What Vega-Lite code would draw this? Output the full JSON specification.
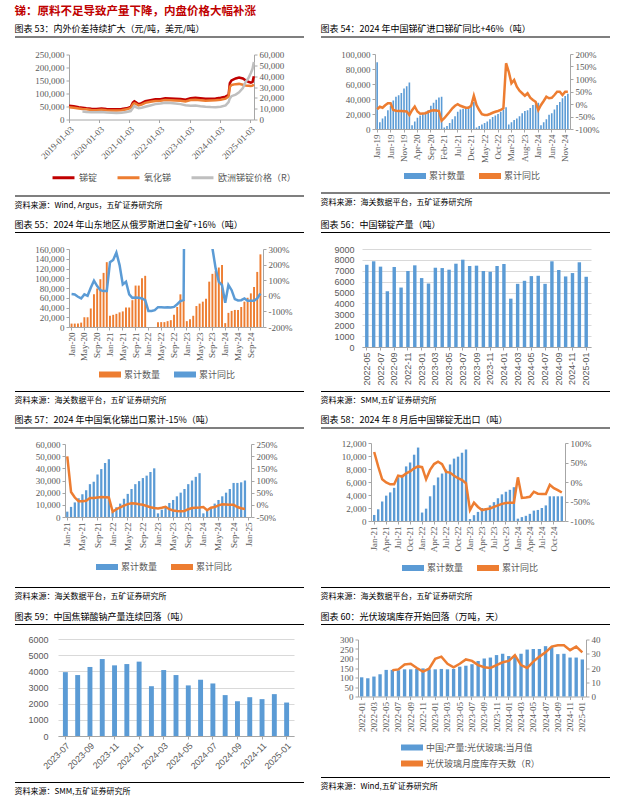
{
"$schema": "https://vega.github.io/schema/vega-lite/v6.json",
"padding": {"left": 14, "top": 5, "right": 2, "bottom": 2},
"background": "white",
"title": {"text": "锑：原料不足导致产量下降，内盘价格大幅补涨", "color": "#c00000", "fontSize": 11.5, "fontWeight": "bold", "offset": 8},
"datasets": {
"p53": [
{"d":"2019-01-03","锑锭":53000,"氧化锑":47000,"eu":null},
{"d":"2019-03-01","锑锭":51000,"氧化锑":45000,"eu":null},
{"d":"2019-05-01","锑锭":47000,"氧化锑":42000,"eu":null},
{"d":"2019-06-15","锑锭":45000,"氧化锑":40000,"eu":7300},
{"d":"2019-08-01","锑锭":43000,"氧化锑":39000,"eu":7000},
{"d":"2019-10-01","锑锭":41000,"氧化锑":37000,"eu":6800},
{"d":"2019-12-01","锑锭":40000,"氧化锑":36000,"eu":6600},
{"d":"2020-02-01","锑锭":42000,"氧化锑":37500,"eu":6900},
{"d":"2020-04-01","锑锭":40000,"氧化锑":36000,"eu":6400},
{"d":"2020-06-01","锑锭":39000,"氧化锑":35000,"eu":6200},
{"d":"2020-08-01","锑锭":39000,"氧化锑":35000,"eu":6100},
{"d":"2020-10-01","锑锭":40000,"氧化锑":36000,"eu":6300},
{"d":"2020-12-01","锑锭":43000,"氧化锑":39000,"eu":6900},
{"d":"2021-01-20","锑锭":48000,"氧化锑":44000,"eu":7800},
{"d":"2021-02-15","锑锭":65000,"氧化锑":58000,"eu":10500},
{"d":"2021-03-05","锑锭":70000,"氧化锑":63000,"eu":12500},
{"d":"2021-03-25","锑锭":66000,"氧化锑":60000,"eu":11500},
{"d":"2021-04-25","锑锭":59000,"氧化锑":54000,"eu":10500},
{"d":"2021-06-01","锑锭":63000,"氧化锑":57000,"eu":10800},
{"d":"2021-07-15","锑锭":70000,"氧化锑":64000,"eu":11800},
{"d":"2021-09-15","锑锭":74000,"氧化锑":68000,"eu":13000},
{"d":"2021-11-15","锑锭":78000,"氧化锑":71000,"eu":14200},
{"d":"2022-01-15","锑锭":78000,"氧化锑":72000,"eu":14800},
{"d":"2022-03-15","锑锭":82000,"氧化锑":75000,"eu":15500},
{"d":"2022-05-15","锑锭":81000,"氧化锑":74000,"eu":15200},
{"d":"2022-07-15","锑锭":80000,"氧化锑":73000,"eu":14800},
{"d":"2022-09-15","锑锭":79000,"氧化锑":72000,"eu":14200},
{"d":"2022-11-15","锑锭":76000,"氧化锑":69000,"eu":13200},
{"d":"2023-01-15","锑锭":82000,"氧化锑":75000,"eu":12800},
{"d":"2023-03-15","锑锭":84000,"氧化锑":76000,"eu":13000},
{"d":"2023-05-15","锑锭":82000,"氧化锑":74000,"eu":12300},
{"d":"2023-07-15","锑锭":80000,"氧化锑":72000,"eu":11800},
{"d":"2023-09-15","锑锭":80000,"氧化锑":73000,"eu":11500},
{"d":"2023-11-15","锑锭":81000,"氧化锑":74000,"eu":11400},
{"d":"2024-01-15","锑锭":84000,"氧化锑":76000,"eu":11800},
{"d":"2024-03-15","锑锭":88000,"氧化锑":80000,"eu":13000},
{"d":"2024-04-20","锑锭":95000,"氧化锑":88000,"eu":16000},
{"d":"2024-05-05","锑锭":140000,"氧化锑":125000,"eu":19500},
{"d":"2024-05-25","锑锭":150000,"氧化锑":133000,"eu":21500},
{"d":"2024-07-15","锑锭":158000,"氧化锑":136000,"eu":23000},
{"d":"2024-08-25","锑锭":161000,"氧化锑":137000,"eu":25000},
{"d":"2024-10-10","锑锭":158000,"氧化锑":134000,"eu":29000},
{"d":"2024-11-15","锑锭":150000,"氧化锑":131000,"eu":35000},
{"d":"2024-12-15","锑锭":145000,"氧化锑":130000,"eu":38000},
{"d":"2025-01-15","锑锭":142000,"氧化锑":129000,"eu":43000},
{"d":"2025-02-05","锑锭":145000,"氧化锑":130000,"eu":47000},
{"d":"2025-02-20","锑锭":166000,"氧化锑":135000,"eu":53000}
],
"p54": [
{"m":"Jan-19","q":89000,"y":-21},{"m":"Feb-19","q":9000,"y":-11},{"m":"Mar-19","q":14000,"y":-15},{"m":"Apr-19","q":17000,"y":-5},{"m":"May-19","q":25000,"y":3},{"m":"Jun-19","q":31000,"y":3},{"m":"Jul-19","q":38000,"y":-24},{"m":"Aug-19","q":43000,"y":-27},{"m":"Sep-19","q":45000,"y":-28},{"m":"Oct-19","q":48000,"y":-28},{"m":"Nov-19","q":54000,"y":-29},{"m":"Dec-19","q":57000,"y":-30},
{"m":"Jan-20","q":62000,"y":-44},{"m":"Feb-20","q":5000,"y":-25},{"m":"Mar-20","q":10000,"y":-10},{"m":"Apr-20","q":15000,"y":-30},{"m":"May-20","q":18000,"y":-39},{"m":"Jun-20","q":20000,"y":-38},{"m":"Jul-20","q":23000,"y":-37},{"m":"Aug-20","q":25000,"y":-32},{"m":"Sep-20","q":31000,"y":-27},{"m":"Oct-20","q":35000,"y":-25},{"m":"Nov-20","q":39000,"y":-26},{"m":"Dec-20","q":42000,"y":-28},
{"m":"Jan-21","q":43000,"y":-67},{"m":"Feb-21","q":2000,"y":-57},{"m":"Mar-21","q":4000,"y":-44},{"m":"Apr-21","q":8000,"y":-31},{"m":"May-21","q":13000,"y":-17},{"m":"Jun-21","q":17000,"y":-7},{"m":"Jul-21","q":23000,"y":-1},{"m":"Aug-21","q":26000,"y":-7},{"m":"Sep-21","q":27000,"y":-11},{"m":"Oct-21","q":29000,"y":-15},{"m":"Nov-21","q":30000,"y":-15},{"m":"Dec-21","q":31000,"y":-7},
{"m":"Jan-22","q":36000,"y":33},{"m":"Feb-22","q":2000,"y":-4},{"m":"Mar-22","q":4000,"y":-24},{"m":"Apr-22","q":6000,"y":-41},{"m":"May-22","q":8000,"y":-44},{"m":"Jun-22","q":10000,"y":-44},{"m":"Jul-22","q":13000,"y":-40},{"m":"Aug-22","q":16000,"y":-35},{"m":"Sep-22","q":18000,"y":-31},{"m":"Oct-22","q":20000,"y":-28},{"m":"Nov-22","q":23000,"y":-24},{"m":"Dec-22","q":26000,"y":-17},
{"m":"Jan-23","q":29000,"y":163},{"m":"Feb-23","q":6000,"y":129},{"m":"Mar-23","q":9000,"y":83},{"m":"Apr-23","q":12000,"y":96},{"m":"May-23","q":14000,"y":69},{"m":"Jun-23","q":17000,"y":53},{"m":"Jul-23","q":21000,"y":43},{"m":"Aug-23","q":24000,"y":33},{"m":"Sep-23","q":25000,"y":43},{"m":"Oct-23","q":28000,"y":25},{"m":"Nov-23","q":32000,"y":16},{"m":"Dec-23","q":33000,"y":9},
{"m":"Jan-24","q":35000,"y":-24},{"m":"Feb-24","q":5000,"y":-4},{"m":"Mar-24","q":9000,"y":12},{"m":"Apr-24","q":13000,"y":29},{"m":"May-24","q":19000,"y":23},{"m":"Jun-24","q":21000,"y":25},{"m":"Jul-24","q":26000,"y":36},{"m":"Aug-24","q":32000,"y":49},{"m":"Sep-24","q":36000,"y":49},{"m":"Oct-24","q":41000,"y":36},{"m":"Nov-24","q":44000,"y":49},{"m":"Dec-24","q":47000,"y":49}
],
"p55": [
{"m":"Jan-20","q":7000,"y":11},{"m":"Feb-20","q":7000,"y":9},{"m":"Mar-20","q":7000,"y":-6},{"m":"Apr-20","q":9000,"y":-17},{"m":"May-20","q":20000,"y":9},{"m":"Jun-20","q":20000,"y":0},{"m":"Jul-20","q":38000,"y":52},{"m":"Aug-20","q":67000,"y":97},{"m":"Sep-20","q":79000,"y":62},{"m":"Oct-20","q":98000,"y":36},{"m":"Nov-20","q":111000,"y":30},{"m":"Dec-20","q":133000,"y":30},
{"m":"Jan-21","q":23000,"y":215},{"m":"Feb-21","q":25000,"y":230},{"m":"Mar-21","q":27000,"y":277},{"m":"Apr-21","q":30000,"y":197},{"m":"May-21","q":32000,"y":73},{"m":"Jun-21","q":40000,"y":90},{"m":"Jul-21","q":40000,"y":9},{"m":"Aug-21","q":55000,"y":-13},{"m":"Sep-21","q":85000,"y":-11},{"m":"Oct-21","q":85000,"y":-13},{"m":"Nov-21","q":100000,"y":-17},{"m":"Dec-21","q":105000,"y":-28},
{"m":"Jan-22","q":0,"y":-97},{"m":"Feb-22","q":0,"y":-97},{"m":"Mar-22","q":0,"y":-92},{"m":"Apr-22","q":10000,"y":-73},{"m":"May-22","q":10000,"y":-73},{"m":"Jun-22","q":10000,"y":-75},{"m":"Jul-22","q":12000,"y":-73},{"m":"Aug-22","q":14000,"y":-75},{"m":"Sep-22","q":25000,"y":-71},{"m":"Oct-22","q":41000,"y":-54},{"m":"Nov-22","q":67000,"y":-34},{"m":"Dec-22","q":55000,"y":-28},
{"m":"Jan-23","q":12000,"y":3000},{"m":"Feb-23","q":16000,"y":2600},{"m":"Mar-23","q":23000,"y":2200},{"m":"Apr-23","q":43000,"y":1800},{"m":"May-23","q":48000,"y":1400},{"m":"Jun-23","q":52000,"y":1100},{"m":"Jul-23","q":58000,"y":800},{"m":"Aug-23","q":93000,"y":600},{"m":"Sep-23","q":109000,"y":305},{"m":"Oct-23","q":115000,"y":176},{"m":"Nov-23","q":122000,"y":90},{"m":"Dec-23","q":127000,"y":69},
{"m":"Jan-24","q":8000,"y":-45},{"m":"Feb-24","q":29000,"y":69},{"m":"Mar-24","q":33000,"y":36},{"m":"Apr-24","q":35000,"y":-21},{"m":"May-24","q":35000,"y":-30},{"m":"Jun-24","q":41000,"y":-28},{"m":"Jul-24","q":52000,"y":-17},{"m":"Aug-24","q":60000,"y":-32},{"m":"Sep-24","q":69000,"y":-32},{"m":"Oct-24","q":82000,"y":-32},{"m":"Nov-24","q":113000,"y":-17},{"m":"Dec-24","q":149000,"y":15}
],
"p56": [
{"m":"2022-05","q":7550},{"m":"2022-06","q":7870},{"m":"2022-07","q":7380},{"m":"2022-08","q":5120},{"m":"2022-09","q":7350},{"m":"2022-10","q":5460},{"m":"2022-11","q":6980},{"m":"2022-12","q":7500},{"m":"2023-01","q":6330},{"m":"2023-02","q":5830},{"m":"2023-03","q":7280},{"m":"2023-04","q":7250},{"m":"2023-05","q":7100},{"m":"2023-06","q":7650},{"m":"2023-07","q":8020},{"m":"2023-08","q":7440},{"m":"2023-09","q":7470},{"m":"2023-10","q":6980},{"m":"2023-11","q":6910},{"m":"2023-12","q":7440},{"m":"2024-01","q":7620},{"m":"2024-02","q":4440},{"m":"2024-03","q":5800},{"m":"2024-04","q":6080},{"m":"2024-05","q":6510},{"m":"2024-06","q":6540},{"m":"2024-07","q":5800},{"m":"2024-08","q":7870},{"m":"2024-09","q":7070},{"m":"2024-10","q":6480},{"m":"2024-11","q":6790},{"m":"2024-12","q":7780},{"m":"2025-01","q":6450}
],
"p57": [
{"m":"Jan-21","q":4400,"y":199},{"m":"Feb-21","q":8300,"y":53},{"m":"Mar-21","q":12000,"y":30},{"m":"Apr-21","q":15400,"y":15},{"m":"May-21","q":18700,"y":15},{"m":"Jun-21","q":22000,"y":17},{"m":"Jul-21","q":27000,"y":28},{"m":"Aug-21","q":29000,"y":28},{"m":"Sep-21","q":35000,"y":30},{"m":"Oct-21","q":39400,"y":32},{"m":"Nov-21","q":44400,"y":31},{"m":"Dec-21","q":47500,"y":30},
{"m":"Jan-22","q":4000,"y":-28},{"m":"Feb-22","q":8000,"y":-18},{"m":"Mar-22","q":11000,"y":-10},{"m":"Apr-22","q":15000,"y":-3},{"m":"May-22","q":19000,"y":3},{"m":"Jun-22","q":23000,"y":6},{"m":"Jul-22","q":27000,"y":5},{"m":"Aug-22","q":29500,"y":2},{"m":"Sep-22","q":32000,"y":0},{"m":"Oct-22","q":34000,"y":-5},{"m":"Nov-22","q":37000,"y":-10},{"m":"Dec-22","q":40000,"y":-13},
{"m":"Jan-23","q":3000,"y":-15},{"m":"Feb-23","q":6000,"y":-12},{"m":"Mar-23","q":9000,"y":-8},{"m":"Apr-23","q":11500,"y":-18},{"m":"May-23","q":14000,"y":-23},{"m":"Jun-23","q":17000,"y":-25},{"m":"Jul-23","q":20000,"y":-26},{"m":"Aug-23","q":23000,"y":-25},{"m":"Sep-23","q":27000,"y":-18},{"m":"Oct-23","q":30000,"y":-13},{"m":"Nov-23","q":33000,"y":-12},{"m":"Dec-23","q":36000,"y":-11},
{"m":"Jan-24","q":3000,"y":-9},{"m":"Feb-24","q":5000,"y":-22},{"m":"Mar-24","q":8000,"y":-12},{"m":"Apr-24","q":11000,"y":-9},{"m":"May-24","q":14000,"y":-2},{"m":"Jun-24","q":17000,"y":2},{"m":"Jul-24","q":20000,"y":1},{"m":"Aug-24","q":23000,"y":0},{"m":"Sep-24","q":28000,"y":0},{"m":"Oct-24","q":28000,"y":-9},{"m":"Nov-24","q":28500,"y":-14},{"m":"Dec-24","q":30000,"y":-17},
{"m":"Jan-25","q":null,"y":null}
],
"p58": [
{"m":"Jan-21","q":930,"y":77},{"m":"Feb-21","q":1800,"y":40},{"m":"Mar-21","q":3000,"y":7},{"m":"Apr-21","q":3900,"y":-1},{"m":"May-21","q":4400,"y":-6},{"m":"Jun-21","q":5100,"y":-6},{"m":"Jul-21","q":6700,"y":16},{"m":"Aug-21","q":7100,"y":14},{"m":"Sep-21","q":8400,"y":22},{"m":"Oct-21","q":9000,"y":27},{"m":"Nov-21","q":10200,"y":35},{"m":"Dec-21","q":11300,"y":40},
{"m":"Jan-22","q":1300,"y":38},{"m":"Feb-22","q":1900,"y":7},{"m":"Mar-22","q":3800,"y":31},{"m":"Apr-22","q":5500,"y":46},{"m":"May-22","q":6700,"y":52},{"m":"Jun-22","q":7300,"y":46},{"m":"Jul-22","q":7900,"y":26},{"m":"Aug-22","q":8700,"y":24},{"m":"Sep-22","q":9600,"y":16},{"m":"Oct-22","q":9900,"y":10},{"m":"Nov-22","q":10500,"y":5},{"m":"Dec-22","q":11000,"y":-3},
{"m":"Jan-23","q":300,"y":-72},{"m":"Feb-23","q":900,"y":-53},{"m":"Mar-23","q":1400,"y":-64},{"m":"Apr-23","q":2000,"y":-72},{"m":"May-23","q":2000,"y":-70},{"m":"Jun-23","q":2400,"y":-68},{"m":"Jul-23","q":2900,"y":-64},{"m":"Aug-23","q":3500,"y":-60},{"m":"Sep-23","q":4100,"y":-56},{"m":"Oct-23","q":4500,"y":-54},{"m":"Nov-23","q":4800,"y":-53},{"m":"Dec-23","q":5200,"y":-53},
{"m":"Jan-24","q":360,"y":12},{"m":"Feb-24","q":600,"y":-41},{"m":"Mar-24","q":800,"y":-40},{"m":"Apr-24","q":1100,"y":-38},{"m":"May-24","q":1600,"y":-25},{"m":"Jun-24","q":1700,"y":-30},{"m":"Jul-24","q":2000,"y":-31},{"m":"Aug-24","q":2400,"y":-31},{"m":"Sep-24","q":3800,"y":-7},{"m":"Oct-24","q":3800,"y":-16},{"m":"Nov-24","q":3800,"y":-21},{"m":"Dec-24","q":3800,"y":-27}
],
"p59": [
{"m":"2023-07","q":3950},{"m":"2023-08","q":3770},{"m":"2023-09","q":4270},{"m":"2023-10","q":4760},{"m":"2023-11","q":4370},{"m":"2023-12","q":4450},{"m":"2024-01","q":4600},{"m":"2024-02","q":3080},{"m":"2024-03","q":4080},{"m":"2024-04","q":3770},{"m":"2024-05","q":3130},{"m":"2024-06","q":3480},{"m":"2024-07","q":3250},{"m":"2024-08","q":2530},{"m":"2024-09","q":2150},{"m":"2024-10","q":2400},{"m":"2024-11","q":2280},{"m":"2024-12","q":2590},{"m":"2025-01","q":2070}
],
"p60": [
{"m":"2022-01","q":101,"y":null},{"m":"2022-02","q":96,"y":null},{"m":"2022-03","q":105,"y":null},{"m":"2022-04","q":117,"y":null},{"m":"2022-05","q":140,"y":null},{"m":"2022-06","q":140,"y":18.5},{"m":"2022-07","q":138,"y":19},{"m":"2022-08","q":143,"y":22.5},{"m":"2022-09","q":143,"y":23},{"m":"2022-10","q":145,"y":20},{"m":"2022-11","q":148,"y":17.5},{"m":"2022-12","q":143,"y":19.5},
{"m":"2023-01","q":143,"y":26.5},{"m":"2023-02","q":145,"y":28},{"m":"2023-03","q":143,"y":23},{"m":"2023-04","q":145,"y":20.5},{"m":"2023-05","q":157,"y":23},{"m":"2023-06","q":162,"y":26},{"m":"2023-07","q":170,"y":25},{"m":"2023-08","q":187,"y":22},{"m":"2023-09","q":200,"y":20.5},{"m":"2023-10","q":205,"y":20},{"m":"2023-11","q":218,"y":22},{"m":"2023-12","q":225,"y":24},
{"m":"2024-01","q":213,"y":25},{"m":"2024-02","q":215,"y":29},{"m":"2024-03","q":225,"y":22},{"m":"2024-04","q":247,"y":20},{"m":"2024-05","q":250,"y":24.5},{"m":"2024-06","q":250,"y":28},{"m":"2024-07","q":265,"y":31},{"m":"2024-08","q":260,"y":35},{"m":"2024-09","q":223,"y":36},{"m":"2024-10","q":225,"y":36},{"m":"2024-11","q":205,"y":32.5},{"m":"2024-12","q":205,"y":35},{"m":"2025-01","q":195,"y":31}
]
},
"vconcat": [
{"hconcat": [
 {"concat": [
   {"concat": [
     {"width": 289, "height": 1, "data": {"values": [{}]}, "mark": {"type": "rule", "color": "#000000", "strokeWidth": 1.2}, "encoding": {"y": {"datum": 0, "type": "quantitative", "scale": {"domain": [0, 1]}, "axis": null}}, "title": {"text": "图表 53：内外价差持续扩大（元/吨，美元/吨）", "offset": 2}},
     {"hconcat": [
     {"width": 1, "height": 1, "data": {"values": []}, "mark": {"type": "point", "opacity": 0}, "encoding": {}},
     {"width": 185, "height": 65, "data": {"name": "p53"},
      "layer": [
       {"transform": [{"fold": ["锑锭", "氧化锑"], "as": ["s", "v"]}],
        "mark": {"type": "line", "strokeWidth": 2.5},
        "encoding": {
          "x": {"field": "d", "type": "temporal", "scale": {"type": "utc", "domain": [{"year": 2019, "month": 1, "date": 3, "utc": true}, {"year": 2025, "month": 2, "date": 22, "utc": true}]}, "axis": {"values": [{"year": 2019, "month": 1, "date": 3, "utc": true}, {"year": 2020, "month": 1, "date": 3, "utc": true}, {"year": 2021, "month": 1, "date": 3, "utc": true}, {"year": 2022, "month": 1, "date": 3, "utc": true}, {"year": 2023, "month": 1, "date": 3, "utc": true}, {"year": 2024, "month": 1, "date": 3, "utc": true}, {"year": 2025, "month": 1, "date": 3, "utc": true}], "format": "%Y-%m-%d", "labelAngle": -45, "labelOverlap": false, "labelBound": false, "title": null}},
          "y": {"field": "v", "type": "quantitative", "scale": {"domain": [0, 250000]}, "axis": {"values": [0, 50000, 100000, 150000, 200000, 250000], "format": ",d", "minExtent": 53, "title": null}},
          "color": {"field": "s", "type": "nominal", "scale": {"domain": ["锑锭", "氧化锑", "欧洲锑锭价格（R）"], "range": ["#c00000", "#ed7d31", "#bfbfbf"]}, "legend": {"legendX": -13, "legendY": 115.5, "symbolType": "M-1.83,0H1.83", "symbolStrokeWidth": 3, "title": null}}
        }},
       {"mark": {"type": "line", "strokeWidth": 2.5},
        "encoding": {
          "x": {"field": "d", "type": "temporal", "axis": {"values": [{"year": 2019, "month": 1, "date": 3, "utc": true}, {"year": 2020, "month": 1, "date": 3, "utc": true}, {"year": 2021, "month": 1, "date": 3, "utc": true}, {"year": 2022, "month": 1, "date": 3, "utc": true}, {"year": 2023, "month": 1, "date": 3, "utc": true}, {"year": 2024, "month": 1, "date": 3, "utc": true}, {"year": 2025, "month": 1, "date": 3, "utc": true}], "format": "%Y-%m-%d", "labelAngle": -45, "labelOverlap": false, "labelBound": false, "title": null}},
          "y": {"field": "eu", "type": "quantitative", "scale": {"domain": [0, 60000]}, "axis": {"orient": "right", "values": [0, 10000, 20000, 30000, 40000, 50000, 60000], "format": ",d", "title": null}},
          "color": {"datum": "欧洲锑锭价格（R）"}
        }}
      ],
      "resolve": {"scale": {"y": "independent"}}}
     ], "spacing": 0, "resolve": {"scale": {"color": "independent"}}}
   ], "columns": 1, "align": "none", "spacing": 12.5, "resolve": {"scale": {"color": "independent"}}},
   {"width": 289, "height": 1, "data": {"values": [{}]}, "mark": {"type": "rule", "color": "#000000", "strokeWidth": 1.2}, "encoding": {"y": {"datum": 0, "type": "quantitative", "scale": {"domain": [0, 1]}, "axis": null}}, "title": {"text": "资料来源：Wind, Argus，五矿证券研究所", "orient": "bottom", "offset": 5, "fontSize": 8}}
 ], "columns": 1, "align": "none", "spacing": 11, "resolve": {"scale": {"color": "independent"}}},
 {"concat": [
   {"concat": [
     {"width": 289, "height": 1, "data": {"values": [{}]}, "mark": {"type": "rule", "color": "#000000", "strokeWidth": 1.2}, "encoding": {"y": {"datum": 0, "type": "quantitative", "scale": {"domain": [0, 1]}, "axis": null}}, "title": {"text": "图表 54：2024 年中国锑矿进口锑矿同比+46%（吨）", "offset": 2}},
     {"hconcat": [
     {"width": 1, "height": 1, "data": {"values": []}, "mark": {"type": "point", "opacity": 0}, "encoding": {}},
     {"width": 195, "height": 75, "data": {"name": "p54"},
      "layer": [
       {"mark": {"type": "bar", "width": {"band": 0.6}},
        "encoding": {
          "x": {"field": "m", "type": "ordinal", "sort": null, "scale": {"paddingInner": 0, "paddingOuter": 0.3}, "axis": {"values": ["Jan-19", "Jun-19", "Nov-19", "Apr-20", "Sep-20", "Feb-21", "Jul-21", "Dec-21", "May-22", "Oct-22", "Mar-23", "Aug-23", "Jan-24", "Jun-24", "Nov-24"], "labelAngle": -90, "title": null}},
          "y": {"field": "q", "type": "quantitative", "scale": {"domain": [0, 100000]}, "axis": {"values": [0, 20000, 40000, 60000, 80000, 100000], "format": ",d", "minExtent": 53, "title": null}},
          "color": {"datum": "累计数量", "scale": {"domain": ["累计数量", "累计同比"], "range": ["#5b9bd5", "#ed7d31"]}, "legend": {"legendX": 34, "legendY": 116, "title": null}}
        }},
       {"mark": {"type": "line", "strokeWidth": 2.5},
        "encoding": {
          "x": {"field": "m", "type": "ordinal", "sort": null},
          "y": {"field": "y", "type": "quantitative", "scale": {"domain": [-100, 200]}, "axis": {"orient": "right", "values": [-100, -50, 0, 50, 100, 150, 200], "labelExpr": "datum.value + '%'", "title": null}},
          "color": {"datum": "累计同比"}
        }}
      ],
      "resolve": {"scale": {"y": "independent"}}}
     ], "spacing": 0, "resolve": {"scale": {"color": "independent"}}}
   ], "columns": 1, "align": "none", "spacing": 12, "resolve": {"scale": {"color": "independent"}}},
   {"width": 289, "height": 1, "data": {"values": [{}]}, "mark": {"type": "rule", "color": "#000000", "strokeWidth": 1.2}, "encoding": {"y": {"datum": 0, "type": "quantitative", "scale": {"domain": [0, 1]}, "axis": null}}, "title": {"text": "资料来源：海关数据平台，五矿证券研究所", "orient": "bottom", "offset": 5, "fontSize": 8}}
 ], "columns": 1, "align": "none", "spacing": 11, "resolve": {"scale": {"color": "independent"}}}
], "spacing": 15, "resolve": {"scale": {"color": "independent"}}},
{"hconcat": [
 {"concat": [
   {"concat": [
     {"width": 289, "height": 1, "data": {"values": [{}]}, "mark": {"type": "rule", "color": "#000000", "strokeWidth": 1.2}, "encoding": {"y": {"datum": 0, "type": "quantitative", "scale": {"domain": [0, 1]}, "axis": null}}, "title": {"text": "图表 55：2024 年山东地区从俄罗斯进口金矿+16%（吨）", "offset": 2}},
     {"hconcat": [
     {"width": 1, "height": 1, "data": {"values": []}, "mark": {"type": "point", "opacity": 0}, "encoding": {}},
     {"width": 194, "height": 78, "data": {"name": "p55"},
      "layer": [
       {"mark": {"type": "bar", "width": {"band": 0.6}},
        "encoding": {
          "x": {"field": "m", "type": "ordinal", "sort": null, "scale": {"paddingInner": 0, "paddingOuter": 0.3}, "axis": {"values": ["Jan-20", "May-20", "Sep-20", "Jan-21", "May-21", "Sep-21", "Jan-22", "May-22", "Sep-22", "Jan-23", "May-23", "Sep-23", "Jan-24", "May-24", "Sep-24"], "labelAngle": -90, "title": null}},
          "y": {"field": "q", "type": "quantitative", "scale": {"domain": [0, 160000]}, "axis": {"values": [0, 20000, 40000, 60000, 80000, 100000, 120000, 140000, 160000], "format": ",d", "minExtent": 53, "title": null}},
          "color": {"datum": "累计数量", "scale": {"domain": ["累计数量", "累计同比"], "range": ["#ed7d31", "#5b9bd5"]}, "legend": {"legendX": 35, "legendY": 119.5, "title": null}}
        }},
       {"mark": {"type": "line", "strokeWidth": 2.5, "clip": true},
        "encoding": {
          "x": {"field": "m", "type": "ordinal", "sort": null},
          "y": {"field": "y", "type": "quantitative", "scale": {"domain": [-200, 300]}, "axis": {"orient": "right", "values": [-200, -100, 0, 100, 200, 300], "labelExpr": "datum.value + '%'", "title": null}},
          "color": {"datum": "累计同比"}
        }}
      ],
      "resolve": {"scale": {"y": "independent"}}}
     ], "spacing": 0, "resolve": {"scale": {"color": "independent"}}}
   ], "columns": 1, "align": "none", "spacing": 11.5, "resolve": {"scale": {"color": "independent"}}},
   {"width": 289, "height": 1, "data": {"values": [{}]}, "mark": {"type": "rule", "color": "#000000", "strokeWidth": 1.2}, "encoding": {"y": {"datum": 0, "type": "quantitative", "scale": {"domain": [0, 1]}, "axis": null}}, "title": {"text": "资料来源：海关数据平台，五矿证券研究所", "orient": "bottom", "offset": 5, "fontSize": 8}}
 ], "columns": 1, "align": "none", "spacing": 11, "resolve": {"scale": {"color": "independent"}}},
 {"concat": [
   {"concat": [
     {"width": 289, "height": 1, "data": {"values": [{}]}, "mark": {"type": "rule", "color": "#000000", "strokeWidth": 1.2}, "encoding": {"y": {"datum": 0, "type": "quantitative", "scale": {"domain": [0, 1]}, "axis": null}}, "title": {"text": "图表 56：中国锑锭产量（吨）", "offset": 2}},
     {"hconcat": [
     {"width": 1, "height": 1, "data": {"values": []}, "mark": {"type": "point", "opacity": 0}, "encoding": {}},
     {"width": 229, "height": 98, "data": {"name": "p56"},
      "mark": {"type": "bar", "width": {"band": 0.5}, "color": "#5b9bd5"},
      "encoding": {
        "x": {"field": "m", "type": "ordinal", "sort": null, "scale": {"paddingInner": 0, "paddingOuter": 0.2}, "axis": {"values": ["2022-05", "2022-07", "2022-09", "2022-11", "2023-01", "2023-03", "2023-05", "2023-07", "2023-09", "2023-11", "2024-01", "2024-03", "2024-05", "2024-07", "2024-09", "2024-11", "2025-01"], "labelAngle": -90, "labelFont": "Liberation Sans", "title": null}},
        "y": {"field": "q", "type": "quantitative", "scale": {"domain": [0, 9000]}, "axis": {"values": [0, 1000, 2000, 3000, 4000, 5000, 6000, 7000, 8000, 9000], "format": "d", "labelFont": "Liberation Sans", "grid": true, "gridColor": "#d9d9d9", "domain": false, "ticks": false, "labelPadding": 8, "minExtent": 40, "title": null}}
      }}
     ], "spacing": 0, "resolve": {"scale": {"color": "independent"}}}
   ], "columns": 1, "align": "none", "spacing": 11.5, "resolve": {"scale": {"color": "independent"}}},
   {"width": 289, "height": 1, "data": {"values": [{}]}, "mark": {"type": "rule", "color": "#000000", "strokeWidth": 1.2}, "encoding": {"y": {"datum": 0, "type": "quantitative", "scale": {"domain": [0, 1]}, "axis": null}}, "title": {"text": "资料来源：SMM,五矿证券研究所", "orient": "bottom", "offset": 5, "fontSize": 8}}
 ], "columns": 1, "align": "none", "spacing": 5, "resolve": {"scale": {"color": "independent"}}}
], "spacing": 15, "resolve": {"scale": {"color": "independent"}}},
{"hconcat": [
 {"concat": [
   {"concat": [
     {"width": 289, "height": 1, "data": {"values": [{}]}, "mark": {"type": "rule", "color": "#000000", "strokeWidth": 1.2}, "encoding": {"y": {"datum": 0, "type": "quantitative", "scale": {"domain": [0, 1]}, "axis": null}}, "title": {"text": "图表 57：2024 年中国氧化锑出口累计-15%（吨）", "offset": 2}},
     {"hconcat": [
     {"width": 1, "height": 1, "data": {"values": []}, "mark": {"type": "point", "opacity": 0}, "encoding": {}},
     {"width": 186, "height": 73, "data": {"name": "p57"},
      "layer": [
       {"mark": {"type": "bar", "width": {"band": 0.6}},
        "encoding": {
          "x": {"field": "m", "type": "ordinal", "sort": null, "scale": {"paddingInner": 0, "paddingOuter": 0.1}, "axis": {"values": ["Jan-21", "May-21", "Sep-21", "Jan-22", "May-22", "Sep-22", "Jan-23", "May-23", "Sep-23", "Jan-24", "May-24", "Sep-24", "Jan-25"], "labelAngle": -90, "title": null}},
          "y": {"field": "q", "type": "quantitative", "scale": {"domain": [0, 60000]}, "axis": {"values": [0, 10000, 20000, 30000, 40000, 50000, 60000], "format": ",d", "minExtent": 49, "title": null}},
          "color": {"datum": "累计数量", "scale": {"domain": ["累计数量", "累计同比"], "range": ["#5b9bd5", "#ed7d31"]}, "legend": {"legendX": 36, "legendY": 117, "title": null}}
        }},
       {"mark": {"type": "line", "strokeWidth": 2.5},
        "encoding": {
          "x": {"field": "m", "type": "ordinal", "sort": null},
          "y": {"field": "y", "type": "quantitative", "scale": {"domain": [-50, 250]}, "axis": {"orient": "right", "values": [-50, 0, 50, 100, 150, 200, 250], "labelExpr": "datum.value + '%'", "title": null}},
          "color": {"datum": "累计同比"}
        }}
      ],
      "resolve": {"scale": {"y": "independent"}}}
     ], "spacing": 0, "resolve": {"scale": {"color": "independent"}}}
   ], "columns": 1, "align": "none", "spacing": 11, "resolve": {"scale": {"color": "independent"}}},
   {"width": 289, "height": 1, "data": {"values": [{}]}, "mark": {"type": "rule", "color": "#000000", "strokeWidth": 1.2}, "encoding": {"y": {"datum": 0, "type": "quantitative", "scale": {"domain": [0, 1]}, "axis": null}}, "title": {"text": "资料来源：海关数据平台，五矿证券研究所", "orient": "bottom", "offset": 5, "fontSize": 8}}
 ], "columns": 1, "align": "none", "spacing": 14.5, "resolve": {"scale": {"color": "independent"}}},
 {"concat": [
   {"concat": [
     {"width": 289, "height": 1, "data": {"values": [{}]}, "mark": {"type": "rule", "color": "#000000", "strokeWidth": 1.2}, "encoding": {"y": {"datum": 0, "type": "quantitative", "scale": {"domain": [0, 1]}, "axis": null}}, "title": {"text": "图表 58：2024 年 8 月后中国锑锭无出口（吨）", "offset": 2}},
     {"hconcat": [
     {"width": 1, "height": 1, "data": {"values": []}, "mark": {"type": "point", "opacity": 0}, "encoding": {}},
     {"width": 194, "height": 78, "data": {"name": "p58"},
      "layer": [
       {"mark": {"type": "bar", "width": {"band": 0.6}},
        "encoding": {
          "x": {"field": "m", "type": "ordinal", "sort": null, "scale": {"paddingInner": 0, "paddingOuter": 0.3}, "axis": {"values": ["Jan-21", "Apr-21", "Jul-21", "Oct-21", "Jan-22", "Apr-22", "Jul-22", "Oct-22", "Jan-23", "Apr-23", "Jul-23", "Oct-23", "Jan-24", "Apr-24", "Jul-24", "Oct-24"], "labelAngle": -90, "title": null}},
          "y": {"field": "q", "type": "quantitative", "scale": {"domain": [0, 12000]}, "axis": {"values": [0, 2000, 4000, 6000, 8000, 10000, 12000], "format": ",d", "minExtent": 49, "title": null}},
          "color": {"datum": "累计数量", "scale": {"domain": ["累计数量", "累计同比"], "range": ["#5b9bd5", "#ed7d31"]}, "legend": {"legendX": 36, "legendY": 119, "title": null}}
        }},
       {"mark": {"type": "line", "strokeWidth": 2.5},
        "encoding": {
          "x": {"field": "m", "type": "ordinal", "sort": null},
          "y": {"field": "y", "type": "quantitative", "scale": {"domain": [-100, 100]}, "axis": {"orient": "right", "values": [-100, -50, 0, 50, 100], "labelExpr": "datum.value + '%'", "title": null}},
          "color": {"datum": "累计同比"}
        }}
      ],
      "resolve": {"scale": {"y": "independent"}}}
     ], "spacing": 0, "resolve": {"scale": {"color": "independent"}}}
   ], "columns": 1, "align": "none", "spacing": 10, "resolve": {"scale": {"color": "independent"}}},
   {"width": 289, "height": 1, "data": {"values": [{}]}, "mark": {"type": "rule", "color": "#000000", "strokeWidth": 1.2}, "encoding": {"y": {"datum": 0, "type": "quantitative", "scale": {"domain": [0, 1]}, "axis": null}}, "title": {"text": "资料来源：海关数据平台，五矿证券研究所", "orient": "bottom", "offset": 5, "fontSize": 8}}
 ], "columns": 1, "align": "none", "spacing": 13.5, "resolve": {"scale": {"color": "independent"}}}
], "spacing": 15, "resolve": {"scale": {"color": "independent"}}},
{"hconcat": [
 {"concat": [
   {"concat": [
     {"width": 289, "height": 1, "data": {"values": [{}]}, "mark": {"type": "rule", "color": "#000000", "strokeWidth": 1.2}, "encoding": {"y": {"datum": 0, "type": "quantitative", "scale": {"domain": [0, 1]}, "axis": null}}, "title": {"text": "图表 59：中国焦锑酸钠产量连续回落（吨）", "offset": 2}},
     {"hconcat": [
     {"width": 1, "height": 1, "data": {"values": []}, "mark": {"type": "point", "opacity": 0}, "encoding": {}},
     {"width": 236, "height": 97, "data": {"name": "p59"},
      "mark": {"type": "bar", "width": {"band": 0.4}, "color": "#5b9bd5"},
      "encoding": {
        "x": {"field": "m", "type": "ordinal", "sort": null, "scale": {"paddingInner": 0, "paddingOuter": 0.1}, "axis": {"values": ["2023-07", "2023-09", "2023-11", "2024-01", "2024-03", "2024-05", "2024-07", "2024-09", "2024-11", "2025-01"], "labelAngle": -45, "labelFont": "Liberation Sans", "title": null}},
        "y": {"field": "q", "type": "quantitative", "scale": {"domain": [0, 6000]}, "axis": {"values": [0, 1000, 2000, 3000, 4000, 5000, 6000], "format": "d", "labelFont": "Liberation Sans", "grid": true, "gridColor": "#d9d9d9", "domain": false, "ticks": false, "labelPadding": 10, "minExtent": 42, "title": null}}
      }}
     ], "spacing": 0, "resolve": {"scale": {"color": "independent"}}}
   ], "columns": 1, "align": "none", "spacing": 9.5, "resolve": {"scale": {"color": "independent"}}},
   {"width": 289, "height": 1, "data": {"values": [{}]}, "mark": {"type": "rule", "color": "#000000", "strokeWidth": 1.2}, "encoding": {"y": {"datum": 0, "type": "quantitative", "scale": {"domain": [0, 1]}, "axis": null}}, "title": {"text": "资料来源：SMM,五矿证券研究所", "orient": "bottom", "offset": 5, "fontSize": 8}}
 ], "columns": 1, "align": "none", "spacing": 10, "resolve": {"scale": {"color": "independent"}}},
 {"concat": [
   {"concat": [
     {"width": 289, "height": 1, "data": {"values": [{}]}, "mark": {"type": "rule", "color": "#000000", "strokeWidth": 1.2}, "encoding": {"y": {"datum": 0, "type": "quantitative", "scale": {"domain": [0, 1]}, "axis": null}}, "title": {"text": "图表 60：光伏玻璃库存开始回落（万吨，天）", "offset": 2}},
     {"hconcat": [
     {"width": 1, "height": 1, "data": {"values": []}, "mark": {"type": "point", "opacity": 0}, "encoding": {}},
     {"width": 228, "height": 57, "data": {"name": "p60"},
      "layer": [
       {"mark": {"type": "bar", "width": {"band": 0.55}},
        "encoding": {
          "x": {"field": "m", "type": "ordinal", "sort": null, "scale": {"paddingInner": 0, "paddingOuter": 0.1}, "axis": {"values": ["2022-01", "2022-03", "2022-05", "2022-07", "2022-09", "2022-11", "2023-01", "2023-03", "2023-05", "2023-07", "2023-09", "2023-11", "2024-01", "2024-03", "2024-05", "2024-07", "2024-09", "2024-11", "2025-01"], "labelAngle": -90, "title": null}},
          "y": {"field": "q", "type": "quantitative", "scale": {"domain": [0, 300]}, "axis": {"values": [0, 50, 100, 150, 200, 250, 300], "format": "d", "minExtent": 36, "title": null}},
          "color": {"datum": "中国:产量:光伏玻璃:当月值", "scale": {"domain": ["中国:产量:光伏玻璃:当月值", "光伏玻璃月度库存天数（R）"], "range": ["#5b9bd5", "#ed7d31"]}, "legend": {"legendX": 48, "legendY": 102, "direction": "vertical", "title": null}}
        }},
       {"mark": {"type": "line", "strokeWidth": 2.5},
        "encoding": {
          "x": {"field": "m", "type": "ordinal", "sort": null},
          "y": {"field": "y", "type": "quantitative", "scale": {"domain": [0, 40]}, "axis": {"orient": "right", "values": [0, 10, 20, 30, 40], "format": "d", "title": null}},
          "color": {"datum": "光伏玻璃月度库存天数（R）"}
        }}
      ],
      "resolve": {"scale": {"y": "independent"}}}
     ], "spacing": 0, "resolve": {"scale": {"color": "independent"}}}
   ], "columns": 1, "align": "none", "spacing": 10, "resolve": {"scale": {"color": "independent"}}},
   {"width": 289, "height": 1, "data": {"values": [{}]}, "mark": {"type": "rule", "color": "#000000", "strokeWidth": 1.2}, "encoding": {"y": {"datum": 0, "type": "quantitative", "scale": {"domain": [0, 1]}, "axis": null}}, "title": {"text": "资料来源：Wind,五矿证券研究所", "orient": "bottom", "offset": 5, "fontSize": 8}}
 ], "columns": 1, "align": "none", "spacing": 8, "resolve": {"scale": {"color": "independent"}}}
], "spacing": 15, "resolve": {"scale": {"color": "independent"}}}
],
"spacing": 10.5,
"resolve": {"scale": {"color": "independent"}},
"config": {
 "font": "Noto Sans CJK SC",
 "view": {"stroke": null},
 "axis": {"labelFont": "Liberation Serif", "labelFontSize": 9, "labelColor": "#595959", "domainColor": "#a6a6a6", "tickColor": "#a6a6a6", "tickSize": 3, "grid": false, "labelPadding": 2, "labelOverlap": false},
 "legend": {"orient": "none", "direction": "horizontal", "labelFont": "Noto Sans CJK SC", "labelFontSize": 9, "labelColor": "#595959", "symbolType": "M-1.83,-0.5H1.83V0.5H-1.83Z", "symbolSize": 144, "symbolStrokeWidth": 0, "columnPadding": 13, "labelOffset": 8, "rowPadding": 5},
 "title": {"font": "Noto Sans CJK SC", "fontSize": 9, "fontWeight": "normal", "anchor": "start", "color": "#000000"}
}
}
